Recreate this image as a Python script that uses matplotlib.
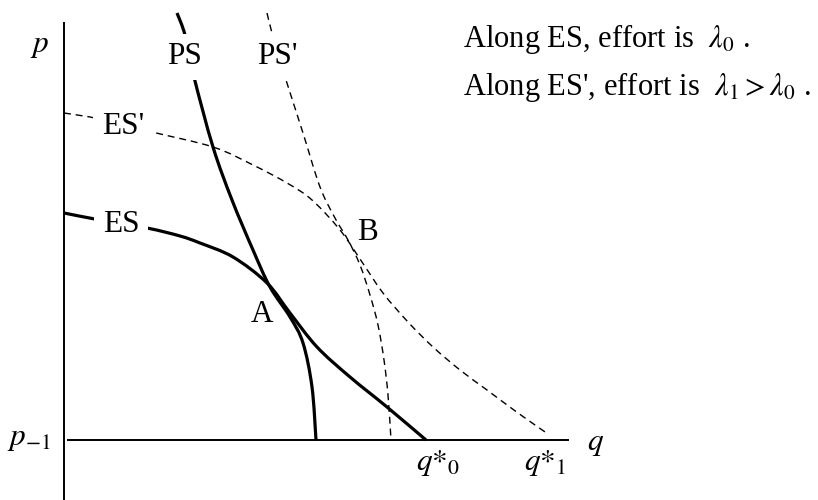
import matplotlib
matplotlib.use("Agg")
import matplotlib.pyplot as plt
import numpy as np
from matplotlib.path import Path
from matplotlib.patches import PathPatch

plt.rcParams['font.family'] = ['Liberation Serif', 'DejaVu Serif']
plt.rcParams['mathtext.fontset'] = 'stix'

# Curves in diagram units (q, p); the horizontal axis sits at p = 0
ps_q = [2.26, 2.42, 2.60, 2.98, 3.36, 3.78, 4.12, 4.52, 4.78, 4.96, 5.04]
ps_p = [8.54, 8.10, 7.26, 5.86, 4.80, 3.80, 3.06, 2.46, 1.94, 1.06, 0.00]

es_q = [0.00, 0.72, 1.66, 2.32, 2.72, 3.38, 4.06, 4.52, 5.06, 5.72, 6.46, 7.24]
es_p = [4.54, 4.40, 4.24, 4.08, 3.94, 3.66, 3.14, 2.54, 1.86, 1.26, 0.66, 0.00]

esp_q = [0.00, 0.72, 1.76, 2.98, 3.78, 4.46, 4.96, 5.52, 5.96, 6.38, 6.88, 7.38, 7.92, 8.46, 9.08, 9.68]
esp_p = [6.54, 6.42, 6.16, 5.86, 5.50, 5.14, 4.80, 4.20, 3.56, 2.94, 2.36, 1.86, 1.40, 1.00, 0.54, 0.12]

psp_q = [4.06, 4.16, 4.30, 4.44, 4.78, 5.12, 5.42, 5.68, 5.92, 6.12, 6.28, 6.40, 6.48, 6.54]
psp_p = [8.54, 8.14, 7.66, 7.20, 6.14, 5.06, 4.44, 4.00, 3.50, 2.90, 2.30, 1.60, 0.90, 0.00]

q_star0 = 7.24
q_star1 = 9.62


def smooth_path(xs, ys):
    """Bezier path through the read points (Catmull-Rom control points)."""
    P = np.column_stack([xs, ys]).astype(float)
    n = len(P)
    verts = [P[0]]
    codes = [Path.MOVETO]
    for i in range(n - 1):
        p0 = P[i - 1] if i > 0 else P[i]
        p1 = P[i]
        p2 = P[i + 1]
        p3 = P[i + 2] if i + 2 < n else P[i + 1]
        c1 = p1 + (p2 - p0) / 6.0
        c2 = p2 - (p3 - p1) / 6.0
        verts += [c1, c2, p2]
        codes += [Path.CURVE4] * 3
    return Path(np.array(verts), codes)


fig = plt.figure(figsize=(8.18, 5.00), dpi=100)
ax = fig.add_axes([0, 0, 1, 1])
ax.set_xlim(-1.28, 15.08)
ax.set_ylim(-1.2, 8.8)
ax.axis('off')

# axes
ax.plot([0, 0], [8.36, -1.2], color='black', lw=1.4, solid_capstyle='butt')
ax.plot([0.06, 10.1], [0, 0], color='black', lw=1.4, solid_capstyle='butt')

# curves
for xs, ys, lw, ls, z in [
    (ps_q, ps_p, 2.3, '-', 3),
    (es_q, es_p, 2.3, '-', 3),
    (esp_q, esp_p, 1.0, (0, (5, 3.5)), 2),
    (psp_q, psp_p, 1.0, (0, (5, 3.5)), 2),
]:
    patch = PathPatch(smooth_path(xs, ys), fill=False, edgecolor='black',
                      lw=lw, linestyle=ls, capstyle='butt', zorder=z)
    ax.add_patch(patch)

fs = 22.5
bb = dict(facecolor='white', edgecolor='none', pad=6)
ax.text(2.42, 7.66, 'PS', fontsize=fs, ha='center', va='center', bbox=bb, zorder=5)
ax.text(4.26, 7.66, "PS'", fontsize=fs, ha='center', va='center', bbox=bb, zorder=5)
ax.text(1.18, 6.26, "ES'", fontsize=fs, ha='center', va='center', bbox=bb, zorder=5)
ax.text(1.14, 4.30, 'ES', fontsize=fs, ha='center', va='center', bbox=bb, zorder=5)
ax.text(3.96, 2.50, 'A', fontsize=fs, ha='center', va='center')
ax.text(6.06, 4.16, 'B', fontsize=fs, ha='center', va='center')

ax.text(-0.48, 7.90, r'$p$', fontsize=fs, ha='center', va='center')
ax.text(-0.70, -0.10, r'$p_{-1}$', fontsize=fs, ha='center', va='baseline')
ax.text(10.64, -0.06, r'$q$', fontsize=fs, ha='center', va='center')
ax.text(q_star0 + 0.24, -0.60, r'$q\mathrm{*}_{\mathrm{0}}$', fontsize=fs, ha='center', va='baseline')
ax.text(q_star1, -0.60, r'$q\mathrm{*}_{\mathrm{1}}$', fontsize=fs, ha='center', va='baseline')

fs2 = 22
ax.text(7.98, 7.86, r'Along ES, effort is  $\lambda_0$ .', fontsize=fs2, ha='left', va='baseline')
ax.text(7.98, 6.90, r"Along ES', effort is  $\lambda_1 > \lambda_0$ .", fontsize=fs2, ha='left', va='baseline')

fig.savefig('out.png', dpi=100)
